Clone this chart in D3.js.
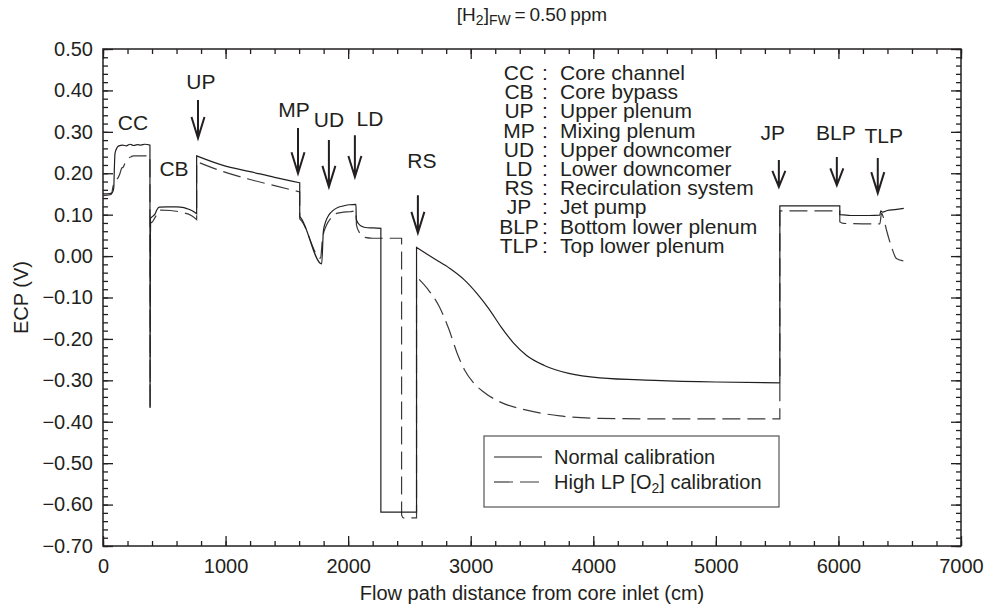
<!DOCTYPE html>
<html>
<head>
<meta charset="utf-8">
<script src="https://cdn.jsdelivr.net/npm/d3@7"></script>
<style>
  body { margin: 0; background: #fff; }
  svg { display: block; }
  text { font-family: "Liberation Sans", Arial, Helvetica, sans-serif; fill: #231f20; }
</style>
</head>
<body>
<svg id="chart" width="986" height="604"></svg>
<script>
// ---- data ----
const xTickValues = [0, 1000, 2000, 3000, 4000, 5000, 6000, 7000];
const yTickValues = [0.5, 0.4, 0.3, 0.2, 0.1, 0.0, -0.1, -0.2, -0.3, -0.4, -0.5, -0.6, -0.7];

// ECP (V) along the flow path (cm), normal calibration
const normalCalibration = [
  [0, 0.150], [40, 0.150], [75, 0.153], [88, 0.165], [92, 0.205], [98, 0.248], [115, 0.262],
  [130, 0.266], [160, 0.268], [190, 0.266], [220, 0.270], [250, 0.267], [280, 0.269],
  [310, 0.268], [340, 0.270], [383, 0.268],
  [384, -0.367], [387, 0.091], [405, 0.096], [425, 0.102], [440, 0.112], [460, 0.118],
  [520, 0.119], [600, 0.119], [660, 0.117], [700, 0.113], [735, 0.108], [764, 0.102],
  [764, 0.242], [980, 0.219], [1200, 0.204], [1400, 0.190], [1605, 0.177],
  [1605, 0.096], [1620, 0.090], [1784, -0.019], [1798, 0.060], [1815, 0.082], [1840, 0.098],
  [1880, 0.111], [1920, 0.118], [1960, 0.121], [2010, 0.124], [2064, 0.125],
  [2066, 0.090], [2085, 0.078], [2110, 0.072], [2140, 0.069], [2200, 0.068], [2267, 0.067],
  [2267, -0.618], [2558, -0.618],
  [2558, 0.021], [2700, -0.006], [2830, -0.030], [2950, -0.058], [3050, -0.090],
  [3150, -0.128], [3250, -0.172], [3350, -0.210], [3456, -0.240], [3600, -0.264],
  [3800, -0.283], [4054, -0.294], [4500, -0.300], [5000, -0.304], [5522, -0.306],
  [5522, 0.121], [6011, 0.121],
  [6011, 0.100], [6100, 0.098], [6250, 0.098], [6338, 0.099],
  [6345, 0.109], [6360, 0.106], [6400, 0.110], [6460, 0.112], [6533, 0.115]
];

// ECP (V) along the flow path (cm), high lower-plenum [O2] calibration
const highLPCalibration = [
  [0, 0.146], [60, 0.148], [70, 0.150], [84, 0.171], [100, 0.175], [111, 0.184], [125, 0.190],
  [139, 0.200], [152, 0.212], [165, 0.215], [179, 0.224], [206, 0.236], [230, 0.240],
  [247, 0.242], [383, 0.242],
  [384, -0.367], [388, 0.079], [405, 0.083], [424, 0.093], [440, 0.100], [465, 0.111],
  [550, 0.110], [650, 0.105], [720, 0.098], [764, 0.088],
  [764, 0.228], [980, 0.204], [1200, 0.185], [1400, 0.170], [1605, 0.155],
  [1605, 0.090], [1620, 0.085], [1775, -0.005], [1790, 0.040], [1824, 0.075], [1860, 0.092],
  [1906, 0.103], [1960, 0.106], [2015, 0.107], [2064, 0.109],
  [2068, 0.075], [2096, 0.055], [2137, 0.045], [2200, 0.043], [2436, 0.043],
  [2436, -0.625], [2450, -0.632], [2558, -0.632],
  [2558, -0.050], [2650, -0.080], [2740, -0.120], [2820, -0.175], [2890, -0.235],
  [2950, -0.275], [3020, -0.305], [3100, -0.327], [3238, -0.352], [3456, -0.372],
  [3728, -0.386], [4054, -0.392], [4500, -0.393], [5522, -0.393],
  [5522, 0.109], [6011, 0.109],
  [6011, 0.083], [6040, 0.079], [6200, 0.078], [6338, 0.078],
  [6352, 0.104], [6365, 0.095], [6392, 0.063], [6433, 0.022], [6473, -0.006],
  [6520, -0.011], [6568, -0.012]
];

const regionCodes = ["CC", "CB", "UP", "MP", "UD", "LD", "RS", "JP", "BLP", "TLP"];
const regionNames = ["Core channel", "Core bypass", "Upper plenum", "Mixing plenum",
  "Upper downcomer", "Lower downcomer", "Recirculation system", "Jet pump",
  "Bottom lower plenum", "Top lower plenum"];

// region labels on the curve (x in cm, y in V); arrows point down to the location
const regionMarkers = [
  { code: "CC",  lx: 245,  ly: 0.304 },
  { code: "CB",  lx: 579,  ly: 0.193 },
  { code: "UP",  lx: 799,  ly: 0.403, ax: 775,  top: 0.377, tip: 0.285 },
  { code: "MP",  lx: 1558, ly: 0.336, ax: 1591, top: 0.309, tip: 0.200 },
  { code: "UD",  lx: 1843, ly: 0.312, ax: 1843, top: 0.280, tip: 0.167 },
  { code: "LD",  lx: 2178, ly: 0.314, ax: 2055, top: 0.292, tip: 0.191 },
  { code: "RS",  lx: 2602, ly: 0.213, ax: 2569, top: 0.147, tip: 0.056 },
  { code: "JP",  lx: 5465, ly: 0.280, ax: 5514, top: 0.232, tip: 0.167 },
  { code: "BLP", lx: 5979, ly: 0.280, ax: 5987, top: 0.239, tip: 0.171 },
  { code: "TLP", lx: 6370, ly: 0.273, ax: 6321, top: 0.237, tip: 0.152 }
];

const seriesNames = ["Normal calibration", "High LP [O2] calibration"];

// ---- layout ----
const svg = d3.select("#chart");
const margin = { left: 103, right: 25, top: 49, bottom: 58 };
const W = 986, H = 604;
const x = d3.scaleLinear().domain([0, 7000]).range([margin.left, W - margin.right]);
const y = d3.scaleLinear().domain([-0.7, 0.5]).range([H - margin.bottom, margin.top]);
const ink = "#231f20";

// minor + major ticks, drawn inward on all four sides
function tickAxis(axisFn, scale, values, size, tx, ty) {
  const g = svg.append("g").attr("transform", `translate(${tx},${ty})`)
    .call(axisFn(scale).tickValues(values).tickSize(size).tickFormat(""));
  g.select(".domain").remove();
  g.selectAll("line").attr("stroke", ink).attr("stroke-width", 1.3);
  return g;
}
const xMinor = d3.range(0, 7001, 200);
const yMinor = d3.range(-70, 51, 2).map(v => v / 100);
const bottomY = y(-0.7), topY = y(0.5), leftX = x(0), rightX = x(7000);

tickAxis(d3.axisTop, x, xMinor, 5, 0, bottomY);
tickAxis(d3.axisTop, x, xTickValues, 10, 0, bottomY);
tickAxis(d3.axisBottom, x, xMinor, 5, 0, topY);
tickAxis(d3.axisBottom, x, xTickValues, 10, 0, topY);
tickAxis(d3.axisRight, y, yMinor, 5, leftX, 0);
tickAxis(d3.axisRight, y, yTickValues, 10, leftX, 0);
tickAxis(d3.axisLeft, y, yMinor, 5, rightX, 0);
tickAxis(d3.axisLeft, y, yTickValues, 10, rightX, 0);

// frame
svg.append("rect")
  .attr("x", leftX).attr("y", topY)
  .attr("width", rightX - leftX).attr("height", bottomY - topY)
  .attr("fill", "none").attr("stroke", ink).attr("stroke-width", 1.5);

// tick labels
const xLab = svg.append("g").attr("transform", `translate(0,${bottomY})`)
  .call(d3.axisBottom(x).tickValues(xTickValues).tickSize(0).tickPadding(13).tickFormat(d3.format("d")));
xLab.select(".domain").remove();
xLab.selectAll("text").attr("font-size", 20).attr("fill", ink)
  .style("font-family", '"Liberation Sans", Arial, sans-serif');

const yLab = svg.append("g").attr("transform", `translate(${leftX},0)`)
  .call(d3.axisLeft(y).tickValues(yTickValues).tickSize(0).tickPadding(10).tickFormat(d3.format(".2f")));
yLab.select(".domain").remove();
yLab.selectAll("text").attr("font-size", 20).attr("fill", ink)
  .style("font-family", '"Liberation Sans", Arial, sans-serif');

// axis titles
svg.append("text")
  .attr("x", (leftX + rightX) / 2).attr("y", 600)
  .attr("text-anchor", "middle").attr("font-size", 20)
  .text("Flow path distance from core inlet (cm)");
svg.append("text")
  .attr("transform", `translate(28,${(topY + bottomY) / 2}) rotate(-90)`)
  .attr("text-anchor", "middle").attr("font-size", 20)
  .text("ECP (V)");

// title: [H2]FW = 0.50 ppm
const title = svg.append("text")
  .attr("x", (leftX + rightX) / 2).attr("y", 21)
  .attr("text-anchor", "middle").attr("font-size", 19);
title.append("tspan").text("[H");
title.append("tspan").attr("baseline-shift", "-25%").attr("font-size", 14).text("2");
title.append("tspan").text("]");
title.append("tspan").attr("baseline-shift", "-25%").attr("font-size", 14).text("FW");
title.append("tspan").text("\u2009=\u20090.50\u2009ppm");

// curves: smooth (monotone) between jumps, straight vertical steps at the jumps
function stepwisePath(data) {
  const runs = [];
  let cur = [data[0]];
  for (let i = 1; i < data.length; i++) {
    if (data[i][0] <= data[i - 1][0]) { runs.push(cur); cur = [data[i]]; }
    else cur.push(data[i]);
  }
  runs.push(cur);
  const gen = d3.line().x(d => x(d[0])).y(d => y(d[1])).curve(d3.curveMonotoneX);
  return runs.map((r, i) => {
    const d = gen(r).replace(/Z$/, "");
    return i ? d.replace(/^M/, "L") : d;
  }).join("");
}

svg.append("path")
  .attr("d", stepwisePath(highLPCalibration)).attr("fill", "none")
  .attr("stroke", "#3a3a3a").attr("stroke-width", 1.2)
  .attr("stroke-dasharray", "18,7");
svg.append("path")
  .attr("d", stepwisePath(normalCalibration)).attr("fill", "none")
  .attr("stroke", ink).attr("stroke-width", 1.2);

// region labels and arrows
const mk = svg.append("g");
regionMarkers.forEach(m => {
  mk.append("text").attr("x", x(m.lx)).attr("y", y(m.ly))
    .attr("text-anchor", "middle").attr("font-size", 21).text(m.code);
  if (m.ax !== undefined) {
    const ax = x(m.ax), y0 = y(m.top), y1 = y(m.tip);
    const head = Math.min(21, (y1 - y0) * 0.6), half = 6.5;
    mk.append("path")
      .attr("d", `M${ax},${y0}V${y1}M${ax - half},${y1 - head}L${ax},${y1}L${ax + half},${y1 - head}`)
      .attr("fill", "none").attr("stroke", ink).attr("stroke-width", 2);
  }
});

// key of region codes
const key = svg.append("g").attr("font-size", 21);
regionCodes.forEach((c, i) => {
  const by = 80 + i * 19.2;
  key.append("text").attr("x", 519).attr("y", by).attr("text-anchor", "middle").text(c);
  key.append("text").attr("x", 545).attr("y", by).attr("text-anchor", "middle").text(":");
  key.append("text").attr("x", 560).attr("y", by).text(regionNames[i]);
});

// legend
const lg = svg.append("g");
lg.append("rect").attr("x", 484).attr("y", 436).attr("width", 295).attr("height", 71)
  .attr("fill", "#fff").attr("stroke", "#555").attr("stroke-width", 1.2);
lg.append("line").attr("x1", 494).attr("x2", 542).attr("y1", 457).attr("y2", 457)
  .attr("stroke", ink).attr("stroke-width", 1.2);
lg.append("line").attr("x1", 494).attr("x2", 542).attr("y1", 482).attr("y2", 482)
  .attr("stroke", "#3a3a3a").attr("stroke-width", 1.2).attr("stroke-dasharray", "19,7");
lg.append("text").attr("x", 554).attr("y", 464).attr("font-size", 20).text(seriesNames[0]);
const l2 = lg.append("text").attr("x", 554).attr("y", 489).attr("font-size", 20);
l2.append("tspan").text("High LP [O");
l2.append("tspan").attr("baseline-shift", "-25%").attr("font-size", 14).text("2");
l2.append("tspan").text("] calibration");
</script>
</body>
</html>
